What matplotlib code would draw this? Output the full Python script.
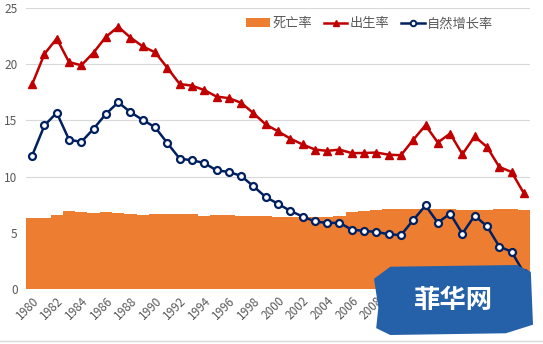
import matplotlib
matplotlib.use("Agg")
import matplotlib.pyplot as plt
from matplotlib.patches import Polygon
from matplotlib.lines import Line2D
from matplotlib.patches import Patch

plt.rcParams['font.family'] = ['Noto Sans CJK SC', 'DejaVu Sans']

years = list(range(1980, 2021))
birth_rate = [18.21, 20.91, 22.28, 20.19, 19.90, 21.04, 22.43, 23.33, 22.37, 21.58,
              21.06, 19.68, 18.24, 18.09, 17.70, 17.12, 16.98, 16.57, 15.64, 14.64,
              14.03, 13.38, 12.86, 12.41, 12.29, 12.40, 12.09, 12.10, 12.14, 11.95,
              11.90, 13.27, 14.57, 13.03, 13.83, 11.99, 13.57, 12.64, 10.86, 10.41,
              8.52]
death_rate = [6.34, 6.36, 6.60, 6.90, 6.82, 6.78, 6.86, 6.72, 6.64, 6.54,
              6.67, 6.70, 6.64, 6.64, 6.49, 6.57, 6.56, 6.51, 6.50, 6.46,
              6.45, 6.43, 6.41, 6.40, 6.42, 6.51, 6.81, 6.93, 7.06, 7.08,
              7.11, 7.14, 7.13, 7.13, 7.12, 7.07, 7.04, 7.06, 7.08, 7.09,
              7.07]
growth_rate = [11.87, 14.55, 15.68, 13.29, 13.08, 14.26, 15.57, 16.61, 15.73, 15.04,
               14.39, 12.98, 11.60, 11.45, 11.21, 10.55, 10.42, 10.06, 9.14, 8.18,
               7.58, 6.95, 6.45, 6.01, 5.87, 5.89, 5.28, 5.17, 5.08, 4.87,
               4.79, 6.13, 7.43, 5.90, 6.71, 4.93, 6.53, 5.58, 3.78, 3.32,
               1.45]
tick_years = list(range(1980, 2021, 2))
y_ticks = [0, 5, 10, 15, 20, 25]

ORANGE = '#ED7D31'
RED = '#C00000'
NAVY = '#002060'
GRID = '#D9D9D9'
TXT = '#595959'

fig = plt.figure(figsize=(5.43, 3.44), dpi=100)
ax = fig.add_axes([26/543, 1 - 289/344, (530 - 26)/543, (289 - 8)/344])

ax.bar(years, death_rate, width=1.0, color=ORANGE, linewidth=0, zorder=2)
ax.plot(years, birth_rate, color=RED, lw=1.8, marker='^', ms=6,
        mfc=RED, mec=RED, zorder=4)
ax.plot(years, growth_rate, color=NAVY, lw=1.8, marker='o', ms=5,
        mfc='white', mec=NAVY, mew=1.6, zorder=5)

ax.set_xlim(1979.5, 2020.5)
ax.set_ylim(0, 25)
ax.set_yticks(y_ticks)
ax.set_xticks(tick_years)
ax.set_xticklabels([str(y) for y in tick_years], rotation=45, ha='right',
                   rotation_mode='anchor')
ax.tick_params(axis='both', length=0, labelsize=8.5, colors=TXT)
ax.tick_params(axis='x', pad=4)
ax.tick_params(axis='y', pad=6)
ax.grid(axis='y', color=GRID, lw=0.8, zorder=0)
ax.set_axisbelow(True)
for s in ax.spines.values():
    s.set_visible(False)

handles = [Patch(facecolor=ORANGE, edgecolor='none'),
           Line2D([], [], color=RED, lw=1.8, marker='^', ms=5, mfc=RED, mec=RED),
           Line2D([], [], color=NAVY, lw=1.8, marker='o', ms=4, mfc='white',
                  mec=NAVY, mew=1.4)]
leg = ax.legend(handles, ['死亡率', '出生率', '自然增长率'], ncol=3,
                loc='upper right', bbox_to_anchor=(0.945, 1.0), frameon=False,
                fontsize=9.5, handlelength=1.8, handleheight=0.6,
                columnspacing=0.9, handletextpad=0.15, borderaxespad=0.3)
for t in leg.get_texts():
    t.set_color(TXT)

# site badge in the lower right corner
bx0, bx1, by0, by1 = 374/543, 533/543, 1 - 335/344, 1 - 265/344
badge = [(bx0 + 0.004, by0 + 0.02), (bx0 + 0.03, by0), (bx1 - 0.05, by0 + 0.005),
         (bx1, by0 + 0.03), (bx1 - 0.004, by1 - 0.02), (bx1 - 0.03, by1),
         (bx0 + 0.03, by1 - 0.005), (bx0, by1 - 0.04), (bx0 + 0.008, by0 + 0.08)]
fig.patches.append(Polygon(badge, closed=True, facecolor='#2561A8',
                           edgecolor='none', transform=fig.transFigure,
                           zorder=10, figure=fig))
fig.text((bx0 + bx1) / 2, (by0 + by1) / 2, '菲华网', color='white',
         fontsize=19, fontweight='bold', ha='center', va='center', zorder=11)

fig.add_artist(Line2D([0, 1], [1 - 341/344] * 2, color='#D9D9D9', lw=1,
                      transform=fig.transFigure))

fig.savefig('out.png', dpi=100)
